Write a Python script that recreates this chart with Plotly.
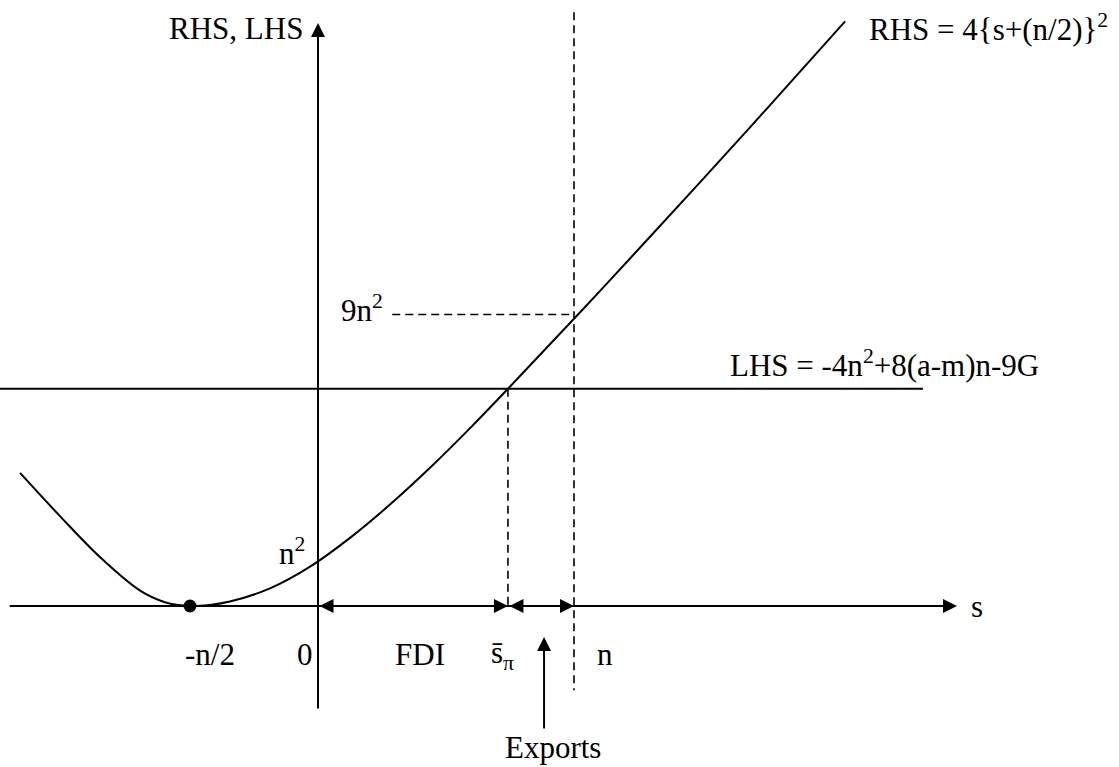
import plotly.graph_objects as go

# RHS curve, sampled along s (in units of n) against the value axis
rhs_s = [-1.164, -1.008, -0.852, -0.695, -0.598, -0.5, -0.422, -0.344, -0.1875,
         -0.031, 0.125, 0.281, 0.4375, 0.594, 0.742, 0.906, 1.102, 1.297,
         1.492, 1.6875, 1.883, 2.059]
rhs_v = [4.16, 2.81, 1.53, 0.48, 0.12, 0.0, 0.035, 0.14, 0.55,
         1.23, 2.13, 3.17, 4.32, 5.56, 6.79, 8.18, 9.85, 11.54,
         13.24, 14.96, 16.70, 18.27]

# key positions on the s axis
s_vertex = -0.5        # -n/2
s_zero = 0.0
s_pi = 0.742           # intersection of RHS and LHS
s_n = 1.0              # n

# key levels on the value axis
v_lhs = 6.79           # LHS = -4n^2+8(a-m)n-9G
v_9n2 = 9.11           # RHS at s = n
v_n2 = 1.41            # RHS at s = 0

# s-axis tick labels
s_labels = ["-n/2", "0", "FDI", "s̄<sub>π</sub>", "n"]
s_label_pos = [-0.42, -0.05, 0.40, 0.72, 1.12]

X_RANGE = [-1.2422, 3.1289]
Y_RANGE = [-5.031, 18.94]

FONT = dict(family="Liberation Serif, Times New Roman, serif", size=31, color="black")
BLACK = "black"

fig = go.Figure()

# RHS curve
fig.add_trace(go.Scatter(x=rhs_s, y=rhs_v, mode="lines",
                         line=dict(color=BLACK, width=2, shape="spline", smoothing=1.0),
                         hoverinfo="skip"))

# LHS horizontal line
fig.add_trace(go.Scatter(x=[X_RANGE[0], 2.363], y=[v_lhs, v_lhs], mode="lines",
                         line=dict(color=BLACK, width=2), hoverinfo="skip"))

# dashed guides
dash = "8px,5px"
fig.add_trace(go.Scatter(x=[s_n, s_n], y=[18.56, -2.63], mode="lines",
                         line=dict(color=BLACK, width=1.6, dash=dash), hoverinfo="skip"))
fig.add_trace(go.Scatter(x=[s_pi, s_pi], y=[v_lhs, 0], mode="lines",
                         line=dict(color=BLACK, width=1.6, dash=dash), hoverinfo="skip"))
fig.add_trace(go.Scatter(x=[0.29, s_n], y=[v_9n2, v_9n2], mode="lines",
                         line=dict(color=BLACK, width=1.6, dash=dash), hoverinfo="skip"))

# minimum of RHS
fig.add_trace(go.Scatter(x=[s_vertex], y=[0], mode="markers",
                         marker=dict(color=BLACK, size=13), hoverinfo="skip"))


def arrow(x0, y0, x1, y1, side="end"):
    fig.add_annotation(x=x1, y=y1, ax=x0, ay=y0, xref="x", yref="y",
                       axref="x", ayref="y", text="", showarrow=True,
                       arrowhead=2, arrowsize=1.4, arrowwidth=2, arrowcolor=BLACK,
                       arrowside=side, standoff=0, startstandoff=0,
                       startarrowhead=2, startarrowsize=1.4)


# axes
arrow(-1.21, 0, 2.496, 0)
arrow(s_zero, -3.25, s_zero, 18.22)

# FDI and exports ranges
arrow(s_zero, 0, s_pi, 0, side="end+start")
arrow(s_pi, 0, s_n, 0, side="end+start")

# pointer to the exports range
arrow(0.883, -3.875, 0.883, -0.97)


def label(text, x, y, xanchor="center", yanchor="middle"):
    fig.add_annotation(x=x, y=y, xref="x", yref="y", text=text, showarrow=False,
                       font=FONT, xanchor=xanchor, yanchor=yanchor)


label("RHS, LHS", -0.05, 18.06, xanchor="right")
label("RHS = 4{s+(n/2)}<sup>2</sup>", 2.145, 18.09, xanchor="left")
label("LHS = -4n<sup>2</sup>+8(a-m)n-9G", 1.60, 7.59, xanchor="left")
label("9n<sup>2</sup>", 0.17, v_9n2 + 0.2)
label("n<sup>2</sup>", -0.10, v_n2 + 0.3)
for t, xp in zip(s_labels, s_label_pos):
    label(t, xp, -1.53)
label("s", 2.574, 0.0)
label("Exports", 0.918, -4.41)

fig.update_layout(
    width=1119, height=767, autosize=False,
    margin=dict(l=0, r=0, t=0, b=0),
    plot_bgcolor="white", paper_bgcolor="white",
    showlegend=False,
    xaxis=dict(range=X_RANGE, visible=False, fixedrange=True),
    yaxis=dict(range=Y_RANGE, visible=False, fixedrange=True),
)

fig.write_html("out.html")
